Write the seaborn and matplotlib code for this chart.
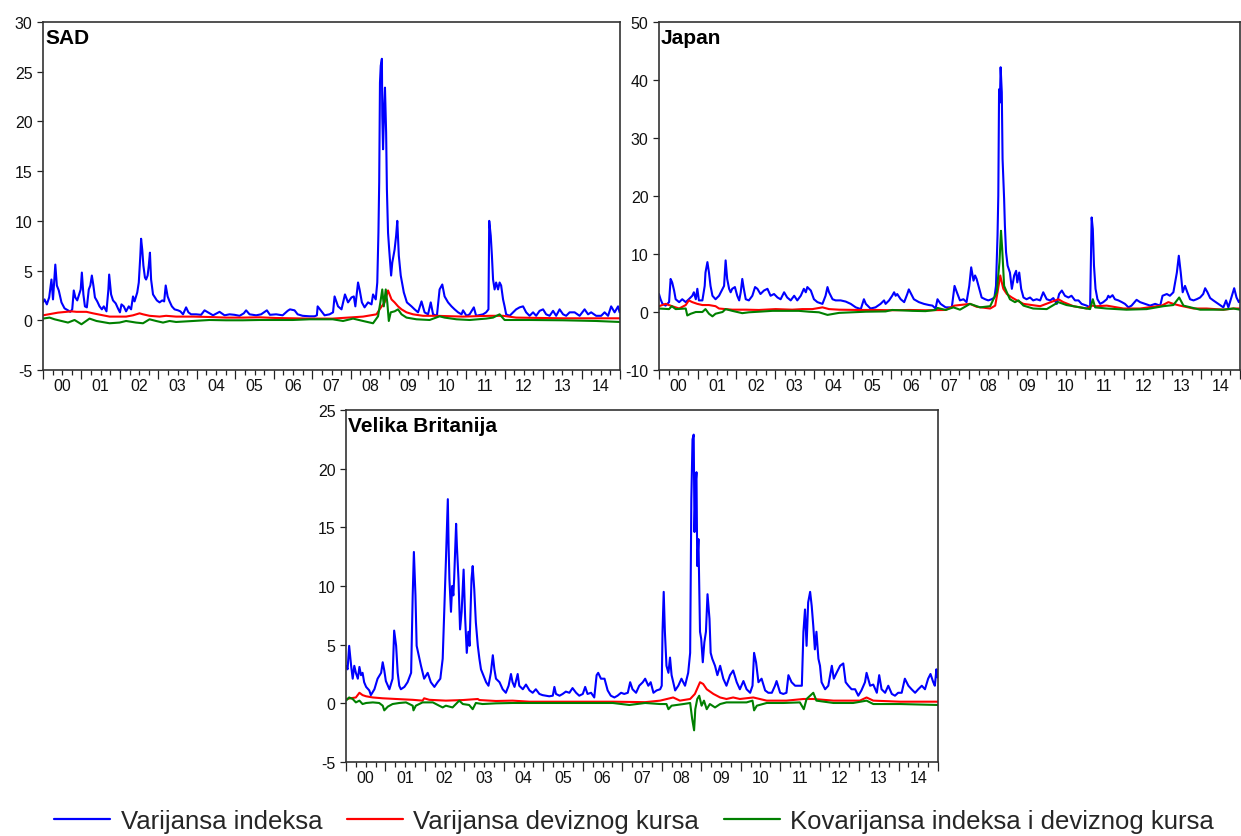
import numpy as np
import matplotlib
matplotlib.use("Agg")
import matplotlib.pyplot as plt
from matplotlib.lines import Line2D
from matplotlib.ticker import FixedLocator, MultipleLocator, FuncFormatter, NullFormatter
import seaborn as sns

# ---------------------------------------------------------------------------
# Conditional variances / covariance, 2000-2014 (time in decimal years)
# ---------------------------------------------------------------------------
sad_index = [
    (2000.00, 1.8), (2000.04, 2.1), (2000.10, 1.6), (2000.16, 2.3), (2000.22, 4.1), (2000.26, 2.1),
    (2000.32, 5.6), (2000.36, 3.5), (2000.41, 3.0), (2000.48, 1.8), (2000.56, 1.2), (2000.65, 1.0),
    (2000.71, 0.85), (2000.76, 1.1), (2000.80, 3.0), (2000.84, 2.3), (2000.89, 2.0), (2000.94, 2.6),
    (2000.98, 3.1), (2001.01, 4.8), (2001.05, 2.6), (2001.09, 1.4), (2001.14, 1.3), (2001.19, 3.1),
    (2001.23, 3.5), (2001.27, 4.5), (2001.31, 3.5), (2001.35, 2.3), (2001.41, 1.9), (2001.47, 1.4),
    (2001.53, 1.1), (2001.58, 1.4), (2001.65, 0.9), (2001.70, 3.1), (2001.72, 4.6), (2001.77, 2.6),
    (2001.82, 2.0), (2001.89, 1.7), (2001.96, 1.1), (2002.00, 0.8), (2002.04, 1.6), (2002.10, 1.4),
    (2002.16, 0.9), (2002.23, 1.4), (2002.29, 1.1), (2002.34, 2.4), (2002.38, 1.9), (2002.45, 2.8),
    (2002.49, 3.8), (2002.53, 6.5), (2002.55, 8.2), (2002.58, 7.1), (2002.61, 5.5), (2002.65, 4.3),
    (2002.68, 4.1), (2002.72, 4.5), (2002.75, 5.5), (2002.78, 6.8), (2002.81, 4.1), (2002.86, 2.6),
    (2002.91, 2.3), (2002.96, 2.0), (2003.03, 1.8), (2003.10, 2.0), (2003.15, 1.9), (2003.19, 3.5),
    (2003.24, 2.4), (2003.29, 1.9), (2003.35, 1.4), (2003.42, 1.1), (2003.51, 1.0), (2003.57, 0.9),
    (2003.64, 0.6), (2003.72, 1.3), (2003.78, 0.8), (2003.85, 0.6), (2003.98, 0.6), (2004.11, 0.55),
    (2004.20, 1.0), (2004.29, 0.8), (2004.42, 0.5), (2004.59, 0.85), (2004.72, 0.5), (2004.85, 0.6),
    (2004.98, 0.55), (2005.11, 0.45), (2005.22, 0.7), (2005.28, 1.0), (2005.37, 0.6), (2005.54, 0.5),
    (2005.67, 0.6), (2005.82, 1.0), (2005.90, 0.55), (2006.06, 0.6), (2006.23, 0.5), (2006.36, 0.95),
    (2006.42, 1.1), (2006.54, 1.0), (2006.62, 0.6), (2006.75, 0.45), (2006.93, 0.4), (2007.06, 0.4),
    (2007.12, 0.5), (2007.14, 1.4), (2007.23, 0.95), (2007.32, 0.5), (2007.45, 0.6), (2007.54, 0.8),
    (2007.58, 2.4), (2007.67, 1.4), (2007.76, 1.1), (2007.85, 2.6), (2007.93, 1.8), (2008.02, 2.3),
    (2008.08, 2.4), (2008.12, 1.4), (2008.19, 3.8), (2008.23, 3.1), (2008.29, 1.8), (2008.36, 1.3),
    (2008.45, 1.8), (2008.54, 1.6), (2008.58, 2.6), (2008.65, 2.1), (2008.69, 3.8), (2008.72, 8.8),
    (2008.74, 13.9), (2008.76, 23.9), (2008.78, 25.6), (2008.81, 26.3), (2008.82, 20.6), (2008.84, 17.2),
    (2008.87, 21.6), (2008.89, 23.4), (2008.92, 18.9), (2008.94, 13.2), (2008.97, 8.8), (2009.00, 7.1),
    (2009.05, 4.5), (2009.08, 5.8), (2009.14, 7.1), (2009.18, 8.5), (2009.21, 10.0), (2009.25, 6.5),
    (2009.30, 4.5), (2009.38, 2.8), (2009.46, 1.8), (2009.58, 1.4), (2009.66, 1.1), (2009.75, 0.8),
    (2009.84, 1.9), (2009.92, 0.8), (2010.01, 0.6), (2010.08, 1.8), (2010.14, 0.6), (2010.24, 0.45),
    (2010.31, 3.1), (2010.38, 3.6), (2010.44, 2.4), (2010.53, 1.8), (2010.62, 1.4), (2010.70, 1.1),
    (2010.79, 0.8), (2010.88, 0.6), (2010.92, 1.0), (2011.01, 0.45), (2011.09, 0.6), (2011.20, 1.3),
    (2011.26, 0.45), (2011.44, 0.6), (2011.52, 0.8), (2011.58, 1.1), (2011.60, 10.0), (2011.64, 8.5),
    (2011.67, 6.5), (2011.70, 4.1), (2011.74, 3.1), (2011.78, 3.8), (2011.83, 3.1), (2011.87, 3.8),
    (2011.91, 3.5), (2011.96, 2.1), (2012.00, 1.4), (2012.04, 0.6), (2012.13, 0.45), (2012.22, 0.8),
    (2012.30, 1.1), (2012.39, 1.3), (2012.48, 1.4), (2012.56, 0.8), (2012.65, 0.45), (2012.74, 0.8),
    (2012.82, 0.45), (2012.91, 0.95), (2013.00, 1.1), (2013.08, 0.6), (2013.17, 0.45), (2013.26, 0.95),
    (2013.34, 0.45), (2013.43, 1.1), (2013.52, 0.6), (2013.60, 0.45), (2013.69, 0.8), (2013.82, 0.8),
    (2013.95, 0.45), (2014.08, 1.1), (2014.17, 0.6), (2014.25, 0.8), (2014.38, 0.45), (2014.51, 0.45),
    (2014.60, 0.8), (2014.69, 0.45), (2014.77, 1.4), (2014.86, 0.8), (2014.95, 1.4), (2014.99, 0.8),
]
sad_fx = [
    (2000.00, 0.5), (2000.39, 0.77), (2000.74, 0.9), (2000.87, 0.85), (2001.13, 0.85), (2001.30, 0.7),
    (2001.56, 0.5), (2001.73, 0.37), (2002.16, 0.37), (2002.34, 0.5), (2002.51, 0.7), (2002.60, 0.6),
    (2002.77, 0.45), (2003.03, 0.37), (2003.20, 0.45), (2003.46, 0.37), (2003.90, 0.37), (2004.33, 0.33),
    (2004.76, 0.27), (2005.19, 0.27), (2005.63, 0.3), (2006.06, 0.23), (2006.49, 0.2), (2006.93, 0.17),
    (2007.53, 0.17), (2008.32, 0.37), (2008.67, 0.6), (2008.75, 1.1), (2008.88, 1.8), (2008.97, 3.0),
    (2009.06, 2.1), (2009.14, 1.8), (2009.23, 1.4), (2009.32, 1.1), (2009.45, 0.8), (2009.62, 0.6),
    (2009.88, 0.45), (2010.23, 0.45), (2010.92, 0.37), (2011.61, 0.45), (2011.96, 0.45), (2012.30, 0.27),
    (2013.52, 0.2), (2015.00, 0.2),
]
sad_cov = [
    (2000.00, 0.17), (2000.17, 0.27), (2000.30, 0.1), (2000.48, -0.07), (2000.65, -0.23), (2000.82, 0.03),
    (2001.00, -0.4), (2001.21, 0.17), (2001.39, -0.07), (2001.73, -0.3), (2001.99, -0.23), (2002.16, -0.07),
    (2002.42, -0.23), (2002.60, -0.3), (2002.77, 0.1), (2002.94, -0.07), (2003.12, -0.23), (2003.29, -0.07),
    (2003.46, -0.17), (2003.90, -0.07), (2004.33, 0.03), (2004.76, 0.0), (2005.19, 0.0), (2005.63, 0.03),
    (2006.06, 0.03), (2006.49, 0.03), (2006.93, 0.1), (2007.53, 0.1), (2007.80, -0.07), (2008.06, 0.17),
    (2008.32, -0.07), (2008.58, -0.3), (2008.71, 0.4), (2008.77, 1.8), (2008.82, 3.1), (2008.86, 1.4),
    (2008.91, 3.1), (2008.95, 1.8), (2008.99, -0.07), (2009.04, 0.8), (2009.14, 0.9), (2009.23, 1.1),
    (2009.32, 0.6), (2009.45, 0.27), (2009.71, 0.1), (2010.05, 0.03), (2010.31, 0.4), (2010.44, 0.27),
    (2010.75, 0.1), (2011.09, 0.03), (2011.52, 0.17), (2011.70, 0.27), (2011.87, 0.6), (2012.00, 0.03),
    (2012.65, 0.03), (2013.52, 0.0), (2014.38, -0.07), (2015.00, -0.17),
]

japan_index = [
    (2000.00, 3.1), (2000.04, 2.2), (2000.09, 1.4), (2000.17, 1.1), (2000.26, 1.7), (2000.30, 5.7),
    (2000.34, 5.1), (2000.39, 3.7), (2000.43, 2.2), (2000.52, 1.7), (2000.60, 2.2), (2000.69, 1.7),
    (2000.77, 2.2), (2000.86, 2.8), (2000.90, 3.4), (2000.95, 2.2), (2000.99, 4.0), (2001.03, 2.0),
    (2001.12, 2.0), (2001.18, 4.5), (2001.20, 6.8), (2001.25, 8.6), (2001.29, 6.8), (2001.33, 4.5),
    (2001.38, 2.8), (2001.46, 2.2), (2001.55, 2.8), (2001.64, 4.0), (2001.68, 4.5), (2001.72, 8.9),
    (2001.76, 5.7), (2001.81, 4.0), (2001.85, 3.4), (2001.89, 4.0), (2001.96, 4.3), (2002.02, 2.8),
    (2002.07, 2.0), (2002.11, 3.4), (2002.15, 5.7), (2002.19, 4.0), (2002.24, 2.2), (2002.32, 2.0),
    (2002.41, 2.8), (2002.48, 4.3), (2002.54, 4.0), (2002.62, 3.1), (2002.71, 3.7), (2002.80, 4.0),
    (2002.88, 2.8), (2002.97, 3.1), (2003.06, 2.5), (2003.14, 2.2), (2003.23, 3.4), (2003.31, 2.5),
    (2003.40, 2.0), (2003.49, 2.8), (2003.57, 2.0), (2003.66, 2.8), (2003.74, 4.0), (2003.79, 3.4),
    (2003.83, 4.3), (2003.92, 3.7), (2004.00, 2.2), (2004.09, 1.7), (2004.22, 1.4), (2004.30, 2.8),
    (2004.35, 4.3), (2004.39, 3.4), (2004.48, 2.2), (2004.56, 2.0), (2004.69, 2.0), (2004.82, 1.8),
    (2004.95, 1.4), (2005.08, 0.8), (2005.21, 0.5), (2005.29, 2.2), (2005.34, 1.4), (2005.46, 0.6),
    (2005.59, 0.8), (2005.72, 1.4), (2005.81, 2.0), (2005.85, 1.4), (2005.94, 2.0), (2006.02, 2.8),
    (2006.07, 3.4), (2006.11, 2.8), (2006.15, 3.1), (2006.24, 2.2), (2006.33, 1.7), (2006.41, 3.1),
    (2006.45, 3.9), (2006.51, 3.1), (2006.58, 2.2), (2006.71, 1.7), (2006.84, 1.4), (2006.97, 1.2),
    (2007.06, 1.1), (2007.14, 0.6), (2007.19, 2.2), (2007.27, 1.4), (2007.40, 0.8), (2007.56, 0.8),
    (2007.63, 4.5), (2007.69, 3.4), (2007.77, 2.0), (2007.86, 2.2), (2007.94, 1.7), (2008.01, 4.5),
    (2008.06, 7.7), (2008.12, 5.4), (2008.16, 6.3), (2008.20, 5.7), (2008.27, 4.0), (2008.33, 2.5),
    (2008.42, 2.2), (2008.50, 2.0), (2008.59, 2.2), (2008.66, 2.5), (2008.70, 4.5), (2008.74, 13.2),
    (2008.76, 20.1), (2008.78, 38.4), (2008.80, 36.1), (2008.82, 42.2), (2008.85, 37.9), (2008.87, 26.4),
    (2008.91, 19.5), (2008.93, 14.9), (2008.96, 10.3), (2009.00, 8.0), (2009.06, 6.8), (2009.11, 4.0),
    (2009.17, 6.3), (2009.22, 7.1), (2009.25, 5.1), (2009.30, 6.8), (2009.35, 4.0), (2009.41, 2.5),
    (2009.49, 2.2), (2009.58, 2.5), (2009.66, 2.0), (2009.75, 2.2), (2009.84, 2.0), (2009.92, 3.4),
    (2010.01, 2.2), (2010.10, 2.0), (2010.18, 2.4), (2010.27, 1.4), (2010.33, 3.1), (2010.40, 3.7),
    (2010.48, 2.8), (2010.57, 2.5), (2010.65, 2.8), (2010.74, 2.0), (2010.83, 2.0), (2010.91, 1.4),
    (2011.04, 1.1), (2011.13, 0.8), (2011.15, 9.1), (2011.17, 16.3), (2011.20, 14.3), (2011.23, 8.0),
    (2011.27, 4.0), (2011.32, 2.2), (2011.39, 1.4), (2011.47, 1.7), (2011.56, 2.2), (2011.60, 2.8),
    (2011.64, 2.5), (2011.71, 2.9), (2011.77, 2.2), (2011.86, 2.0), (2011.95, 1.7), (2012.03, 1.4),
    (2012.12, 0.8), (2012.20, 1.1), (2012.33, 2.1), (2012.42, 1.7), (2012.55, 1.4), (2012.68, 1.1),
    (2012.81, 1.4), (2012.94, 1.1), (2013.00, 2.8), (2013.11, 3.1), (2013.19, 2.8), (2013.28, 3.4),
    (2013.37, 6.8), (2013.42, 9.7), (2013.47, 6.8), (2013.52, 3.4), (2013.58, 4.5), (2013.64, 3.4),
    (2013.71, 2.2), (2013.80, 2.0), (2013.88, 2.2), (2013.97, 2.5), (2014.05, 3.1), (2014.10, 4.1),
    (2014.16, 3.4), (2014.23, 2.4), (2014.31, 2.0), (2014.44, 1.4), (2014.57, 0.8), (2014.64, 2.0),
    (2014.70, 0.8), (2014.79, 2.8), (2014.85, 4.1), (2014.91, 2.5), (2014.97, 1.7), (2015.00, 2.0),
]
japan_fx = [
    (2000.00, 1.0), (2000.17, 1.4), (2000.34, 1.0), (2000.52, 0.6), (2000.69, 1.2), (2000.77, 2.0),
    (2000.86, 1.7), (2000.99, 1.4), (2001.12, 1.2), (2001.29, 1.2), (2001.46, 1.0), (2001.55, 0.6),
    (2001.72, 0.5), (2001.89, 0.4), (2002.24, 0.4), (2002.58, 0.35), (2003.01, 0.5), (2003.44, 0.4),
    (2003.70, 0.5), (2003.96, 0.5), (2004.22, 0.8), (2004.39, 0.5), (2004.65, 0.4), (2005.16, 0.35),
    (2005.59, 0.35), (2006.02, 0.3), (2006.45, 0.35), (2006.88, 0.3), (2007.40, 0.35), (2007.63, 1.1),
    (2008.03, 1.4), (2008.20, 0.9), (2008.55, 0.6), (2008.68, 1.1), (2008.74, 3.4), (2008.81, 6.3),
    (2008.85, 5.1), (2008.89, 4.0), (2008.98, 3.1), (2009.11, 2.5), (2009.24, 2.0), (2009.41, 1.4),
    (2009.84, 1.0), (2010.31, 2.2), (2010.44, 1.7), (2010.70, 1.0), (2011.04, 0.6), (2011.17, 1.1),
    (2011.30, 1.0), (2011.56, 1.1), (2011.99, 0.6), (2012.42, 0.6), (2012.98, 1.1), (2013.15, 1.7),
    (2013.28, 1.4), (2013.45, 1.1), (2013.80, 0.6), (2014.14, 0.6), (2014.57, 0.4), (2014.83, 0.6),
    (2015.00, 0.6),
]
japan_cov = [
    (2000.00, 0.6), (2000.26, 0.5), (2000.33, 1.0), (2000.43, 0.5), (2000.69, 0.6), (2000.73, -0.6),
    (2000.82, -0.3), (2000.95, 0.0), (2001.12, 0.0), (2001.20, 0.5), (2001.29, -0.3), (2001.38, -0.75),
    (2001.46, -0.3), (2001.64, 0.0), (2001.72, 0.5), (2001.89, 0.2), (2002.15, -0.2), (2002.32, -0.05),
    (2002.58, 0.05), (2002.93, 0.2), (2003.27, 0.2), (2003.61, 0.2), (2003.87, 0.05), (2004.13, -0.05),
    (2004.35, -0.5), (2004.65, -0.15), (2004.99, -0.05), (2005.34, 0.05), (2005.85, 0.1), (2006.02, 0.35),
    (2006.54, 0.2), (2006.88, 0.15), (2007.14, 0.35), (2007.19, 0.7), (2007.40, 0.35), (2007.60, 0.8),
    (2007.77, 0.4), (2008.03, 1.4), (2008.29, 0.8), (2008.55, 1.0), (2008.72, 3.4), (2008.79, 8.6),
    (2008.83, 14.0), (2008.86, 10.9), (2008.91, 4.5), (2008.98, 3.4), (2009.06, 2.2), (2009.19, 1.7),
    (2009.28, 2.0), (2009.41, 1.1), (2009.66, 0.6), (2010.01, 0.5), (2010.31, 1.7), (2010.52, 1.2),
    (2010.87, 0.8), (2011.13, 0.5), (2011.20, 2.2), (2011.26, 0.8), (2011.56, 0.6), (2012.07, 0.4),
    (2012.59, 0.5), (2013.02, 1.0), (2013.28, 1.2), (2013.43, 2.5), (2013.54, 1.1), (2013.97, 0.4),
    (2014.57, 0.4), (2014.83, 0.6), (2015.00, 0.4),
]

uk_index = [
    (2000.00, 3.2), (2000.04, 2.9), (2000.08, 4.9), (2000.13, 3.2), (2000.17, 2.1), (2000.21, 3.2),
    (2000.25, 2.6), (2000.30, 2.1), (2000.34, 3.1), (2000.38, 2.4), (2000.42, 2.6), (2000.46, 1.8),
    (2000.51, 1.4), (2000.59, 1.1), (2000.63, 0.7), (2000.72, 1.2), (2000.80, 2.1), (2000.89, 2.6),
    (2000.93, 3.5), (2000.97, 2.8), (2001.01, 1.9), (2001.10, 1.2), (2001.18, 2.1), (2001.22, 6.2),
    (2001.27, 4.9), (2001.31, 2.6), (2001.35, 1.5), (2001.39, 1.2), (2001.48, 1.4), (2001.56, 1.8),
    (2001.65, 2.6), (2001.69, 9.2), (2001.72, 12.9), (2001.76, 9.2), (2001.79, 4.9), (2001.86, 3.8),
    (2001.90, 3.2), (2001.98, 2.1), (2002.07, 2.6), (2002.15, 1.8), (2002.24, 1.4), (2002.32, 1.8),
    (2002.39, 2.1), (2002.45, 3.8), (2002.49, 7.8), (2002.53, 12.0), (2002.58, 17.4), (2002.60, 13.4),
    (2002.62, 10.6), (2002.66, 7.8), (2002.69, 10.0), (2002.72, 9.2), (2002.74, 10.6), (2002.79, 15.3),
    (2002.81, 13.4), (2002.85, 10.6), (2002.89, 6.3), (2002.93, 7.8), (2002.98, 11.4), (2003.02, 7.2),
    (2003.06, 4.3), (2003.10, 6.1), (2003.13, 4.9), (2003.18, 10.6), (2003.21, 11.7), (2003.25, 9.7),
    (2003.29, 6.9), (2003.34, 4.9), (2003.38, 3.8), (2003.42, 2.9), (2003.48, 2.4), (2003.55, 1.8),
    (2003.61, 1.5), (2003.67, 2.6), (2003.72, 4.1), (2003.76, 2.9), (2003.80, 2.1), (2003.89, 1.8),
    (2003.97, 1.2), (2004.05, 0.9), (2004.12, 1.5), (2004.18, 2.5), (2004.22, 1.8), (2004.27, 1.4),
    (2004.35, 2.5), (2004.39, 1.5), (2004.48, 1.2), (2004.56, 1.6), (2004.65, 1.1), (2004.73, 0.9),
    (2004.81, 1.2), (2004.90, 0.8), (2004.98, 0.7), (2005.07, 0.65), (2005.15, 0.6), (2005.24, 0.65),
    (2005.28, 1.4), (2005.32, 0.8), (2005.41, 0.65), (2005.49, 0.8), (2005.57, 1.0), (2005.66, 0.9),
    (2005.74, 1.3), (2005.83, 0.9), (2005.91, 0.65), (2006.00, 0.8), (2006.06, 1.4), (2006.12, 0.8),
    (2006.21, 0.9), (2006.29, 0.5), (2006.35, 2.4), (2006.39, 2.6), (2006.46, 2.1), (2006.55, 2.1),
    (2006.63, 1.1), (2006.71, 0.65), (2006.80, 0.5), (2006.88, 0.65), (2006.97, 0.9), (2007.05, 0.8),
    (2007.14, 0.9), (2007.20, 1.8), (2007.26, 1.2), (2007.35, 0.9), (2007.43, 1.5), (2007.52, 1.8),
    (2007.58, 2.1), (2007.66, 1.5), (2007.72, 1.8), (2007.79, 0.9), (2007.87, 1.1), (2007.96, 1.2),
    (2008.00, 1.5), (2008.02, 6.1), (2008.05, 9.5), (2008.08, 6.1), (2008.12, 3.2), (2008.17, 2.6),
    (2008.21, 3.9), (2008.25, 2.4), (2008.34, 1.1), (2008.42, 1.5), (2008.50, 2.1), (2008.59, 1.5),
    (2008.67, 2.6), (2008.72, 4.3), (2008.75, 17.4), (2008.78, 22.5), (2008.81, 22.9), (2008.83, 14.6),
    (2008.86, 18.8), (2008.88, 19.7), (2008.90, 11.7), (2008.93, 14.0), (2008.97, 6.1), (2009.00, 5.5),
    (2009.04, 3.5), (2009.08, 5.2), (2009.12, 6.1), (2009.16, 9.3), (2009.21, 7.2), (2009.24, 4.3),
    (2009.28, 3.8), (2009.35, 3.2), (2009.41, 2.4), (2009.48, 3.2), (2009.56, 2.1), (2009.64, 1.5),
    (2009.73, 2.4), (2009.81, 2.8), (2009.90, 1.8), (2009.98, 1.2), (2010.07, 1.9), (2010.15, 1.2),
    (2010.24, 0.9), (2010.30, 1.5), (2010.34, 4.3), (2010.39, 3.5), (2010.45, 1.8), (2010.53, 2.1),
    (2010.62, 1.1), (2010.70, 0.9), (2010.79, 0.9), (2010.87, 1.5), (2010.91, 1.9), (2011.00, 0.9),
    (2011.08, 0.8), (2011.16, 0.9), (2011.21, 2.4), (2011.29, 1.8), (2011.38, 1.5), (2011.46, 1.5),
    (2011.55, 1.5), (2011.59, 6.1), (2011.63, 8.0), (2011.67, 4.9), (2011.71, 8.6), (2011.76, 9.5),
    (2011.80, 8.3), (2011.84, 6.6), (2011.88, 4.6), (2011.92, 6.1), (2011.97, 3.8), (2012.01, 3.2),
    (2012.05, 1.8), (2012.14, 1.2), (2012.22, 1.5), (2012.31, 3.2), (2012.36, 2.1), (2012.43, 2.6),
    (2012.52, 3.2), (2012.60, 3.4), (2012.66, 1.8), (2012.73, 1.5), (2012.81, 1.2), (2012.90, 1.2),
    (2012.98, 0.65), (2013.06, 1.1), (2013.15, 1.8), (2013.19, 2.6), (2013.28, 1.5), (2013.36, 1.6),
    (2013.45, 0.9), (2013.51, 2.4), (2013.57, 1.2), (2013.66, 0.9), (2013.74, 1.5), (2013.83, 0.8),
    (2013.91, 0.65), (2013.99, 0.9), (2014.08, 0.9), (2014.16, 2.1), (2014.25, 1.5), (2014.33, 1.2),
    (2014.42, 0.9), (2014.50, 1.2), (2014.59, 1.5), (2014.67, 1.2), (2014.75, 2.1), (2014.81, 2.5),
    (2014.88, 1.8), (2014.92, 1.5), (2014.96, 2.9), (2014.99, 2.2),
]
uk_fx = [
    (2000.00, 0.37), (2000.25, 0.5), (2000.34, 0.9), (2000.42, 0.7), (2000.51, 0.6), (2000.68, 0.5),
    (2000.93, 0.43), (2001.27, 0.37), (2001.69, 0.3), (2001.94, 0.23), (2001.98, 0.43), (2002.11, 0.3),
    (2002.53, 0.23), (2002.96, 0.28), (2003.34, 0.37), (2003.38, 0.28), (2003.80, 0.2), (2004.22, 0.23),
    (2004.65, 0.14), (2005.07, 0.14), (2005.91, 0.14), (2006.76, 0.14), (2007.58, 0.1), (2007.96, 0.23),
    (2008.29, 0.5), (2008.46, 0.23), (2008.72, 0.37), (2008.84, 0.8), (2008.97, 1.8), (2009.05, 1.65),
    (2009.14, 1.2), (2009.31, 0.8), (2009.48, 0.5), (2009.64, 0.37), (2009.81, 0.5), (2009.98, 0.37),
    (2010.32, 0.5), (2010.66, 0.23), (2011.16, 0.23), (2011.59, 0.37), (2011.84, 0.37), (2012.35, 0.23),
    (2013.02, 0.23), (2013.19, 0.5), (2013.36, 0.23), (2014.04, 0.14), (2015.00, 0.14),
]
uk_cov = [
    (2000.00, 0.23), (2000.08, 0.5), (2000.17, 0.37), (2000.25, 0.08), (2000.34, 0.23), (2000.42, -0.06),
    (2000.51, 0.03), (2000.68, 0.08), (2000.84, 0.03), (2000.93, -0.2), (2000.97, -0.6), (2001.06, -0.28),
    (2001.18, -0.06), (2001.35, 0.03), (2001.52, 0.08), (2001.69, -0.2), (2001.71, -0.6), (2001.77, -0.2),
    (2001.94, 0.08), (2002.20, 0.08), (2002.36, -0.2), (2002.45, -0.35), (2002.53, -0.2), (2002.70, -0.35),
    (2002.87, 0.23), (2002.96, -0.06), (2003.12, -0.14), (2003.21, -0.5), (2003.29, 0.03), (2003.46, -0.06),
    (2003.80, 0.0), (2004.22, 0.03), (2005.07, 0.03), (2005.91, 0.03), (2006.76, 0.03), (2007.18, -0.14),
    (2007.58, 0.03), (2007.96, -0.06), (2008.12, -0.06), (2008.17, -0.5), (2008.25, -0.2), (2008.55, -0.06),
    (2008.72, 0.03), (2008.77, -1.3), (2008.82, -2.3), (2008.85, -0.5), (2008.90, 0.37), (2008.95, 0.65),
    (2009.01, -0.2), (2009.07, 0.23), (2009.14, -0.5), (2009.22, -0.06), (2009.35, -0.35), (2009.48, -0.06),
    (2009.64, 0.08), (2010.15, 0.08), (2010.30, 0.23), (2010.34, -0.6), (2010.41, -0.2), (2010.66, 0.03),
    (2011.08, 0.03), (2011.50, 0.08), (2011.60, -0.5), (2011.67, 0.37), (2011.76, 0.65), (2011.84, 0.9),
    (2011.92, 0.23), (2012.35, 0.03), (2012.85, 0.03), (2013.19, 0.23), (2013.36, -0.06), (2014.04, -0.06),
    (2015.00, -0.14),
]

series_labels = ["Varijansa indeksa", "Varijansa deviznog kursa", "Kovarijansa indeksa i deviznog kursa"]
series_colors = ["#0000ff", "#ff0000", "#008000"]

panel_titles = ["SAD", "Japan", "Velika Britanija"]
panel_ylims = [(-5, 30), (-10, 50), (-5, 25)]
panel_ysteps = [5, 10, 5]
years = list(range(2000, 2016))

# ---------------------------------------------------------------------------
sns.set_style("ticks")
plt.rcParams["font.family"] = ["Liberation Sans", "DejaVu Sans"]

W, H = 1241, 837
fig = plt.figure(figsize=(W / 100, H / 100), dpi=100)
fig.patch.set_facecolor("white")

boxes = [
    (43, 23, 577, 348),
    (659, 23, 581, 348),
    (346, 411, 592, 352),
]
axes = [fig.add_axes([l / W, 1 - (t + h) / H, w / W, h / H]) for (l, t, w, h) in boxes]

panel_data = [
    (sad_index, sad_fx, sad_cov),
    (japan_index, japan_fx, japan_cov),
    (uk_index, uk_fx, uk_cov),
]


def year_label(x, pos):
    frac = x - np.floor(x)
    if abs(frac - 0.5) < 1e-6:
        return f"{int(np.floor(x)) % 100:02d}"
    return ""


for ax, data, title, ylim, ystep in zip(axes, panel_data, panel_titles, panel_ylims, panel_ysteps):
    for series, color in zip(data, series_colors):
        arr = np.array(series)
        sns.lineplot(x=arr[:, 0], y=arr[:, 1], ax=ax, color=color, linewidth=1.5,
                     estimator=None, sort=False, legend=False)
    ax.set_xlim(2000, 2015)
    ax.set_ylim(*ylim)
    ax.set_yticks(np.arange(ylim[0], ylim[1] + 0.1, ystep))
    ax.yaxis.set_major_formatter(FuncFormatter(lambda v, p: f"{int(round(v))}"))
    ax.xaxis.set_major_locator(FixedLocator(years))
    ax.xaxis.set_major_formatter(NullFormatter())
    ax.xaxis.set_minor_locator(MultipleLocator(0.25))
    ax.xaxis.set_minor_formatter(FuncFormatter(year_label))
    ax.tick_params(axis="x", which="major", length=6.5, width=0.9, color="#222222", direction="out")
    ax.tick_params(axis="x", which="minor", length=3.4, width=0.9, color="#222222", direction="out",
                   labelsize=11.5, pad=2.5, labelcolor="#111111")
    ax.tick_params(axis="y", which="major", length=4, width=0.9, color="#222222", direction="out",
                   labelsize=11.5, pad=3.5, labelcolor="#111111")
    ax.set_xlabel("")
    ax.set_ylabel("")
    for sp in ax.spines.values():
        sp.set_visible(True)
        sp.set_color("#333333")
        sp.set_linewidth(1.2)
    ax.annotate(title, xy=(0, 1), xycoords="axes fraction", xytext=(1.5, -4.5),
                textcoords="offset points", ha="left", va="top",
                fontsize=15, fontweight="heavy", color="black")

handles = [Line2D([0], [0], color=c, linewidth=1.6) for c in series_colors]
fig.legend(handles, series_labels, loc="center", bbox_to_anchor=(634 / W, 1 - 822 / H),
           ncol=3, frameon=False, fontsize=18.5, handlelength=2.2, handletextpad=0.4,
           columnspacing=0.95, borderaxespad=0, borderpad=0)

fig.savefig("out.png", dpi=100, facecolor="white")
